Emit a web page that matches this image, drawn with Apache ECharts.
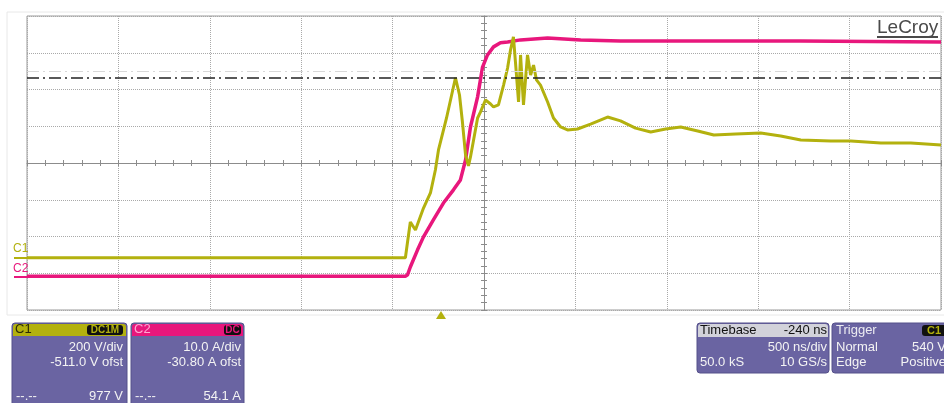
<!DOCTYPE html>
<html><head><meta charset="utf-8">
<script src="https://cdn.jsdelivr.net/npm/echarts/dist/echarts.min.js"></script>
<style>html,body{margin:0;padding:0;background:#fff}#c{width:944px;height:403px}</style>
</head><body><div id="c"></div>
<script>
// ---- scope settings ----
const c1VoltsPerDiv = 200, c1OffsetV = -511.0;
const c2AmpsPerDiv = 10, c2OffsetA = -30.80;
const timePerDivNs = 500, timebaseDelayNs = -240;
const cursorC1V = 977, cursorC2A = 54.1;

// ---- C1 (voltage) trace ----
const c1TimeNs = [-2260,-190,-179,-163,-135,-91,-53,-26,-9,35,84,106,122,139,155,166,183,205,221,248,276,292,319,347,369,385,401,412,429,440,456,478,495,511,527,549,588,620,659,697,752,823,916,987,1069,1152,1234,1316,1409,1497,1617,1754,1863,1973,2137,2247,2411,2575,2740];
const c1Volts  = [-5,-5,76,190,146,266,348,473,582,756,975,881,734,555,495,544,636,756,789,854,832,816,827,935,1028,1126,1197,1061,843,1099,827,1099,990,1044,963,935,843,756,707,691,696,723,761,740,701,680,696,707,685,663,669,674,658,636,631,631,620,620,609];

// ---- C2 (current) trace ----
const c2TimeNs = [-2260,-190,-179,-163,-124,-91,-37,18,73,111,139,166,205,232,259,292,330,369,440,588,769,987,1425,1973,2740];
const c2Amps   = [0,0,0.3,2.5,7.1,10.7,15.3,19.9,23.5,26.2,31.6,40.6,48.8,56.9,60.2,62.4,63.5,63.7,64.3,64.8,64.3,64.0,64.0,64.0,63.7];

// ---- readout texts ----
const c1Readout = ['200 V/div', '-511.0 V ofst', '977 V'];
const c2Readout = ['10.0 A/div', '-30.80 A ofst', '54.1 A'];
const timebaseReadout = ['Timebase', '-240 ns', '500 ns/div', '50.0 kS', '10 GS/s'];
const triggerReadout = ['Trigger', 'Normal', '540 V', 'Edge', 'Positive'];

const YEL = '#b3b10e', MAG = '#e8177c', PUR = '#6a64a2';
const FONT = '"Liberation Sans", Arial, sans-serif';

const tMin = -timebaseDelayNs - 5 * timePerDivNs, tMax = -timebaseDelayNs + 5 * timePerDivNs;
const v1Center = -c1OffsetV, a2Center = -c2OffsetA;

const zip = (a, b) => a.map((v, i) => [v, b[i]]);

function txt(x, y, s, align, fill, size, bold) {
  return { type: 'text', x: x, y: y, z: 10, style: { text: s, fill: fill, textAlign: align, textVerticalAlign: 'middle',
    font: (bold ? 'bold ' : '') + size + 'px ' + FONT } };
}
function rect(x, y, w, h, fill, r, stroke) {
  return { type: 'rect', z: 5, shape: { x: x, y: y, width: w, height: h, r: r || 0 }, style: { fill: fill, stroke: stroke || null, lineWidth: 1 } };
}

const R1 = 329, R2 = 347, R3 = 362, R4 = 396;
const gfx = [
  { type: 'rect', z: -1, shape: { x: 7, y: 12, width: 940, height: 303 }, style: { fill: 'none', stroke: '#e8e8e8', lineWidth: 1 } },
  // LeCroy logo
  txt(877, 28, 'LeCroy', 'left', '#4a4a4a', 19),
  { type: 'line', z: 10, shape: { x1: 877, y1: 37, x2: 938, y2: 37 }, style: { stroke: '#4a4a4a', lineWidth: 2 } },
  // channel markers
  txt(13, 249, 'C1', 'left', YEL, 12),
  { type: 'line', z: 10, shape: { x1: 14, y1: 258, x2: 28, y2: 258 }, style: { stroke: YEL, lineWidth: 2 } },
  txt(13, 269, 'C2', 'left', MAG, 12),
  { type: 'line', z: 10, shape: { x1: 14, y1: 277, x2: 28, y2: 277 }, style: { stroke: MAG, lineWidth: 2 } },
  // trigger marker
  { type: 'polygon', z: 10, shape: { points: [[441, 311], [436, 319], [446, 319]] }, style: { fill: YEL } },

  // C1 box
  rect(12, 323, 115, 95, PUR, 3, '#55508a'),
  rect(13, 324, 113, 12, YEL, [3, 3, 0, 0]),
  txt(15, R1, 'C1', 'left', '#2b2b05', 13),
  rect(87, 325, 36, 10, '#111', 3),
  txt(105, 330, 'DC1M', 'center', YEL, 10, true),
  txt(123, R2, c1Readout[0], 'right', '#f3f3f3', 13),
  txt(123, R3, c1Readout[1], 'right', '#f3f3f3', 13),
  txt(16, R4, '--.--', 'left', '#f3f3f3', 13),
  txt(123, R4, c1Readout[2], 'right', '#f3f3f3', 13),

  // C2 box
  rect(131, 323, 113, 95, PUR, 3, '#55508a'),
  rect(132, 324, 111, 12, MAG, [3, 3, 0, 0]),
  txt(134, R1, 'C2', 'left', '#ffa6d2', 13),
  rect(224, 325, 17, 10, '#111', 3),
  txt(232.5, 330, 'DC', 'center', MAG, 10, true),
  txt(241, R2, c2Readout[0], 'right', '#f3f3f3', 13),
  txt(241, R3, c2Readout[1], 'right', '#f3f3f3', 13),
  txt(135, R4, '--.--', 'left', '#f3f3f3', 13),
  txt(241, R4, c2Readout[2], 'right', '#f3f3f3', 13),

  // Timebase box
  rect(697, 323, 132, 50, PUR, 3, '#55508a'),
  rect(698, 324, 130, 13, '#d2d2da', [3, 3, 0, 0]),
  txt(700, R1 + 1, timebaseReadout[0], 'left', '#111', 13),
  txt(827, R1 + 1, timebaseReadout[1], 'right', '#111', 13),
  txt(827, R2, timebaseReadout[2], 'right', '#f3f3f3', 13),
  txt(700, R3, timebaseReadout[3], 'left', '#f3f3f3', 13),
  txt(827, R3, timebaseReadout[4], 'right', '#f3f3f3', 13),

  // Trigger box
  rect(832, 323, 120, 50, PUR, 3, '#55508a'),
  txt(836, R1 + 1, triggerReadout[0], 'left', '#ececf2', 13),
  rect(922, 325, 24, 11, '#111', 3),
  txt(934, 330.5, 'C1', 'center', YEL, 11, true),
  txt(836, R2, triggerReadout[1], 'left', '#f3f3f3', 13),
  txt(946, R2, triggerReadout[2], 'right', '#f3f3f3', 13),
  txt(836, R3, triggerReadout[3], 'left', '#f3f3f3', 13),
  txt(946, R3, triggerReadout[4], 'right', '#f3f3f3', 13)
];

const dotted = { show: true, lineStyle: { color: '#a9a9a9', type: 'dotted', width: 1 } };
const hid = { show: false };

const chart = echarts.init(document.getElementById('c'), null, { renderer: 'canvas' });
chart.setOption({
  animation: false,
  backgroundColor: '#fff',
  grid: { left: 27, top: 16, right: 3, bottom: 93, show: true, borderColor: '#9a9a9a', borderWidth: 1, backgroundColor: 'transparent' },
  xAxis: [
    { type: 'value', min: 0, max: 10, interval: 1, axisLine: hid, axisTick: hid, axisLabel: hid, splitLine: dotted },
    { type: 'value', min: tMin, max: tMax, show: false, splitLine: hid },
    { type: 'value', min: -5, max: 5, interval: 0.2, position: 'bottom',
      axisLine: { show: true, onZero: true, onZeroAxisIndex: 0, lineStyle: { color: '#8c8c8c', width: 1 } },
      axisTick: { show: true, inside: false, length: 3, lineStyle: { color: '#8c8c8c' } }, axisLabel: hid, splitLine: hid },
    { type: 'value', min: -5, max: 5, interval: 0.2, position: 'bottom',
      axisLine: { show: false, onZero: true, onZeroAxisIndex: 0 },
      axisTick: { show: true, inside: true, length: 3, lineStyle: { color: '#8c8c8c' } }, axisLabel: hid, splitLine: hid }
  ],
  yAxis: [
    { type: 'value', min: -4, max: 4, interval: 1, axisLine: hid, axisTick: hid, axisLabel: hid, splitLine: dotted },
    { type: 'value', min: v1Center - 4 * c1VoltsPerDiv, max: v1Center + 4 * c1VoltsPerDiv, show: false, splitLine: hid },
    { type: 'value', min: a2Center - 4 * c2AmpsPerDiv, max: a2Center + 4 * c2AmpsPerDiv, show: false, splitLine: hid },
    { type: 'value', min: -4, max: 4, interval: 0.2, position: 'left',
      axisLine: { show: true, onZero: true, onZeroAxisIndex: 2, lineStyle: { color: '#8c8c8c', width: 1 } },
      axisTick: { show: true, inside: false, length: 3, lineStyle: { color: '#8c8c8c' } }, axisLabel: hid, splitLine: hid },
    { type: 'value', min: -4, max: 4, interval: 0.2, position: 'left',
      axisLine: { show: false, onZero: true, onZeroAxisIndex: 2 },
      axisTick: { show: true, inside: true, length: 3, lineStyle: { color: '#8c8c8c' } }, axisLabel: hid, splitLine: hid }
  ],
  series: [
    { name: 'C2', type: 'line', xAxisIndex: 1, yAxisIndex: 2, data: zip(c2TimeNs, c2Amps), showSymbol: false,
      lineStyle: { color: MAG, width: 3.5 }, z: 3,
      markLine: { silent: true, symbol: 'none', label: { show: false },
        lineStyle: { color: '#d8d8d8', type: [12, 4, 2, 4], width: 1 },
        data: [{ yAxis: a2Center + 2.5 * c2AmpsPerDiv }] } },
    { name: 'C1', type: 'line', xAxisIndex: 1, yAxisIndex: 1, data: zip(c1TimeNs, c1Volts), showSymbol: false,
      lineStyle: { color: YEL, width: 3 }, z: 4,
      markLine: { silent: true, symbol: 'none', label: { show: false },
        lineStyle: { color: '#222', type: [12, 4, 2, 4], width: 1.5 },
        data: [{ yAxis: cursorC1V }] } }
  ],
  graphic: gfx
});
</script></body></html>
